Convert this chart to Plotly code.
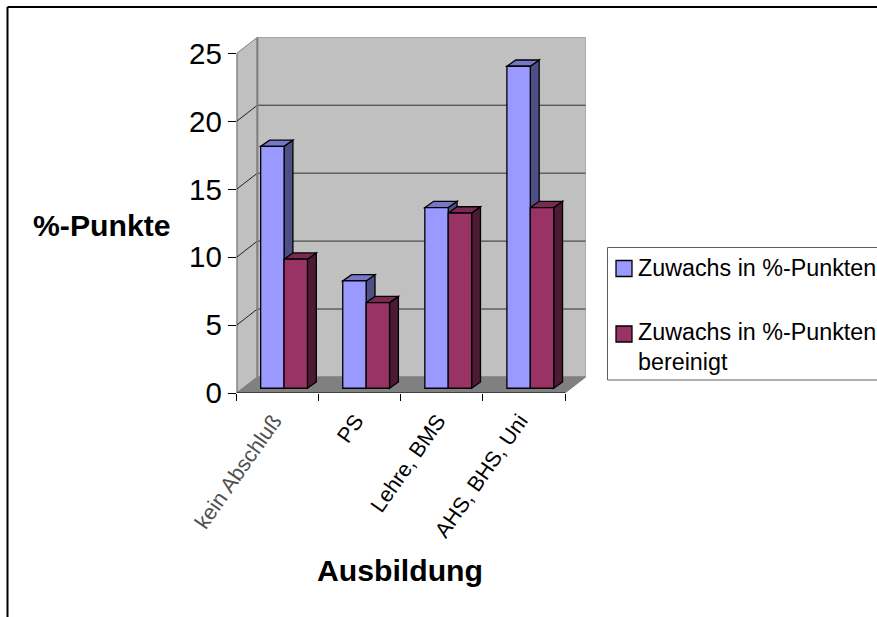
import plotly.graph_objects as go

# Chart data
categories = ["kein Abschluß", "PS", "Lehre, BMS", "AHS, BHS, Uni"]
series_names = ["Zuwachs in %-Punkten", "Zuwachs in %-Punkten<br>bereinigt"]
zuwachs = [17.8, 7.9, 13.3, 23.7]
bereinigt = [9.5, 6.3, 12.9, 13.3]
y_ticks = [0, 5, 10, 15, 20, 25]

W, H = 877, 617
FONT = "Liberation Sans"
EDGE = 1.3

# Pseudo-3D geometry in axis units
WALL_DX, WALL_DY = 0.252, 1.18     # depth of the chart box
BAR_DX, BAR_DY = 0.108, 0.46       # depth of each column
BAR_LEFT, BAR_W = 0.292, 0.285     # column offset and width inside a category
LIFT = 0.35                        # columns stand on the floor, behind the front edge
N = len(categories)
Y_MAX = 25

faces = {
    "blue": dict(front="#9999FF", side="#4F4F85", top="#7777C8"),
    "red": dict(front="#993366", side="#4D1A33", top="#7A2952"),
}


def px(x):
    return x / W


def py(y):
    return 1 - y / H


def poly(points):
    return "M" + " L".join(f"{a},{b}" for a, b in points) + " Z"


shapes = []


def data_poly(points, fill, line, width=1.0):
    shapes.append(dict(type="path", xref="x", yref="y", layer="below", path=poly(points),
                       fillcolor=fill, line=dict(color=line, width=width)))


def data_line(x0, y0, x1, y1, color, width=1.0):
    shapes.append(dict(type="line", xref="x", yref="y", layer="below", x0=x0, y0=y0, x1=x1, y1=y1,
                       line=dict(color=color, width=width)))


# Box: side wall, back wall, floor
data_poly([(0, 0), (WALL_DX, WALL_DY), (WALL_DX, Y_MAX + WALL_DY), (0, Y_MAX)], "#C0C0C0", "#808080")
data_poly([(WALL_DX, WALL_DY), (N + WALL_DX, WALL_DY), (N + WALL_DX, Y_MAX + WALL_DY), (WALL_DX, Y_MAX + WALL_DY)],
          "#C0C0C0", "#808080")
data_poly([(0, 0), (N, 0), (N + WALL_DX, WALL_DY), (WALL_DX, WALL_DY)], "#808080", "#808080")

# Gridlines run along the side wall and across the back wall
for t in y_ticks[1:-1]:
    data_line(0, t, WALL_DX, t + WALL_DY, "#202020")
    data_line(WALL_DX, t + WALL_DY, N + WALL_DX, t + WALL_DY, "#303030")
data_line(WALL_DX, WALL_DY, WALL_DX, Y_MAX + WALL_DY, "#808080", 2)

# Front edges of the box
data_line(0, 0, 0, Y_MAX, "#000000")
data_line(0, 0, N, 0, "#000000")

x_blue = [i + BAR_LEFT + BAR_W / 2 for i in range(N)]
x_red = [i + BAR_LEFT + BAR_W * 1.5 for i in range(N)]

# Side and top faces of the columns, left to right
for i in range(N):
    for xc, val, style in ((x_blue[i], zuwachs[i], faces["blue"]), (x_red[i], bereinigt[i], faces["red"])):
        right = xc + BAR_W / 2
        left = xc - BAR_W / 2
        top = LIFT + val
        data_poly([(right, LIFT), (right + BAR_DX, LIFT + BAR_DY), (right + BAR_DX, top + BAR_DY), (right, top)],
                  style["side"], "#000000", EDGE)
        data_poly([(left, top), (right, top), (right + BAR_DX, top + BAR_DY), (left + BAR_DX, top + BAR_DY)],
                  style["top"], "#000000", EDGE)

fig = go.Figure()
fig.add_bar(x=x_blue, y=zuwachs, base=LIFT, width=BAR_W, name="Zuwachs in %-Punkten",
            marker=dict(color=faces["blue"]["front"], line=dict(color="#000000", width=EDGE)))
fig.add_bar(x=x_red, y=bereinigt, base=LIFT, width=BAR_W, name="Zuwachs in %-Punkten bereinigt",
            marker=dict(color=faces["red"]["front"], line=dict(color="#000000", width=EDGE)))

# Page frame: only the top and left edges fall inside the picture
shapes.append(dict(type="line", xref="paper", yref="paper", x0=px(7.5), x1=1, y0=py(7), y1=py(7),
                   line=dict(color="#000000", width=2)))
shapes.append(dict(type="line", xref="paper", yref="paper", x0=px(7.5), x1=px(7.5), y0=py(7), y1=0,
                   line=dict(color="#000000", width=2)))

# Legend box, open towards the right edge
shapes.append(dict(type="rect", xref="paper", yref="paper", x0=px(607.5), x1=1.01, y0=py(380), y1=py(247.5),
                   fillcolor="#FFFFFF", line=dict(color="#606060", width=1)))
legend_rows = [(series_names[0], 268.5, faces["blue"]["front"], 268.5),
               (series_names[1], 347, faces["red"]["front"], 334)]
annotations = []
for label, text_y, color, swatch_y in legend_rows:
    shapes.append(dict(type="rect", xref="paper", yref="paper", x0=px(616), x1=px(632),
                       y0=py(swatch_y + 8), y1=py(swatch_y - 8), fillcolor=color,
                       line=dict(color="#000000", width=EDGE)))
    annotations.append(dict(text=label, xref="paper", yref="paper", x=px(636), y=py(text_y), showarrow=False,
                            xanchor="left", yanchor="middle", align="left",
                            font=dict(family=FONT, size=23.3, color="#000000")))

annotations.append(dict(text="<b>%-Punkte</b>", xref="paper", yref="paper", x=px(102), y=py(225), showarrow=False,
                        xanchor="center", yanchor="middle",
                        font=dict(family=FONT, size=30.2, color="#000000")))
annotations.append(dict(text="<b>Ausbildung</b>", xref="paper", yref="paper", x=px(400), y=py(570), showarrow=False,
                        xanchor="center", yanchor="middle",
                        font=dict(family=FONT, size=30.2, color="#000000")))

tick_text = [f'<span style="color:#505050">{categories[0]}</span>'] + categories[1:]

fig.update_layout(
    width=W, height=H,
    margin=dict(l=0, r=0, t=0, b=0, autoexpand=False),
    paper_bgcolor="#FFFFFF", plot_bgcolor="rgba(0,0,0,0)",
    showlegend=False, barmode="overlay",
    shapes=shapes, annotations=annotations,
    font=dict(family=FONT, color="#000000"),
    xaxis=dict(domain=[px(236.7), px(585.7)], range=[0, N + WALL_DX], showgrid=False, zeroline=False, showline=False,
               automargin=False,
               tickmode="array", tickvals=[i + 0.45 for i in range(N)], ticktext=tick_text,
               ticks="", tickangle=-55, ticklabelstandoff=10, tickfont=dict(size=21.5, family=FONT),
               minor=dict(tickmode="array", tickvals=list(range(N + 1)), ticks="outside", ticklen=7,
                          tickcolor="#000000", tickwidth=1, showgrid=False)),
    yaxis=dict(domain=[py(393), py(37.3)], range=[0, Y_MAX + WALL_DY], showgrid=False, zeroline=False, showline=False,
               automargin=False,
               tickmode="array", tickvals=y_ticks, ticks="outside", ticklen=8, tickcolor="#000000", tickwidth=1,
               ticklabelstandoff=0, tickfont=dict(size=29.5, family=FONT)),
)

fig.write_html("out.html", config=dict(displayModeBar=False))
